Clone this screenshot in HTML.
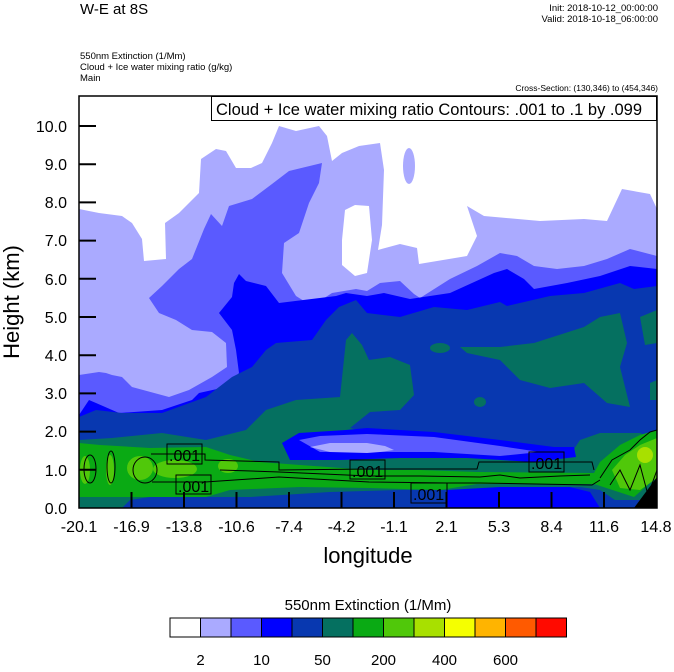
<!DOCTYPE html>
<html><head><meta charset="utf-8"><style>
html,body{margin:0;padding:0;background:#fff;}
body{width:674px;height:667px;overflow:hidden;font-family:"Liberation Sans",sans-serif;}
</style></head><body>
<svg width="674" height="667" viewBox="0 0 674 667" xmlns="http://www.w3.org/2000/svg" font-family="Liberation Sans, sans-serif">
<defs><clipPath id="c"><rect x="79" y="96" width="578" height="412"/></clipPath></defs>
<g clip-path="url(#c)">
<rect x="79" y="96" width="578" height="412" fill="#fff"/>
<polygon fill="#aaaaff" points="79,209 99,213 122,216 132,223 142,239 144,261 166,259 165,223 179,213 199,193 201,159 216,149 226,151 236,168 251,168 262,163 272,143 279,126 296,131 319,126 327,136 332,161 342,153 359,146 380,143 384,170 382,225 378,250 400,244 417,248 419,264 467,256 477,236 467,206 484,216 540,221 584,219 607,221 622,189 650,194 657,209 657,508 79,508"/>
<polygon fill="#fff" points="342,240 345,210 355,205 369,206 372,240 367,273 355,276 342,265"/>
<ellipse cx="409" cy="166" rx="6" ry="18" fill="#aaaaff"/>
<polygon fill="#5a5aff" points="79,375 99,372 106,373 112,375 122,377 132,387 169,397 189,390 212,377 227,367 226,343 212,332 192,330 176,320 159,313 149,298 162,286 179,269 192,259 204,229 211,214 222,226 229,206 252,199 272,184 289,171 322,163 319,183 309,203 299,233 284,243 282,273 296,296 312,306 332,293 356,289 367,291 380,283 400,281 414,294 420,298 450,279 477,266 500,253 517,256 534,266 557,269 584,266 607,259 630,249 657,256 657,508 79,508"/>
<polygon fill="#0000ff" points="79,415 89,400 96,403 119,413 162,410 192,400 199,393 226,387 239,373 236,350 232,330 219,313 232,297 234,283 239,274 246,281 266,286 279,303 336,296 346,293 367,296 384,293 410,299 450,293 494,273 507,269 524,279 534,289 567,283 600,276 630,266 657,269 657,508 79,508"/>
<polygon fill="#0838b0" points="79,417 96,410 122,413 162,413 206,397 232,377 252,367 266,350 276,343 312,340 326,320 339,307 356,300 367,313 400,317 434,307 467,310 500,302 507,306 550,296 584,293 620,283 634,289 657,286 657,508 79,508"/>
<polygon fill="#057060" points="79,440 112,438 162,433 206,440 246,430 266,410 296,400 340,397 346,340 352,333 362,345 369,360 390,357 410,365 414,395 400,410 370,412 350,428 400,440 500,450 570,455 580,440 600,433 640,433 657,440 657,500 130,500 122,508 79,508"/>
<polygon fill="#057060" points="460,347 500,347 534,343 584,327 600,317 620,313 627,343 620,367 630,407 607,403 584,383 550,388 520,380 500,360 467,353"/>
<polygon fill="#057060" points="640,317 657,310 657,343 645,345"/>
<polygon fill="#057060" points="650,383 657,380 657,400 650,400"/>
<ellipse cx="440" cy="348" rx="10" ry="5" fill="#057060"/>
<ellipse cx="480" cy="402" rx="6" ry="5" fill="#057060"/>
<polygon fill="#0000ff" points="282,443 299,433 346,430 367,428 434,432 500,440 554,447 574,447 576,457 534,462 467,458 400,458 340,460 290,460"/>
<polygon fill="#5a5aff" points="299,440 320,436 367,434 434,437 500,446 540,452 500,456 434,452 367,452 320,452"/>
<polygon fill="#aaaaff" points="310,447 330,443 367,443 385,446 394,450 380,452 367,453 330,452"/>
<polygon fill="#0aaa14" points="79,443 100,445 150,448 206,447 230,455 260,462 300,465 369,470 420,470 477,472 594,473 600,462 620,445 640,435 657,430 657,477 634,497 594,484 477,484 440,490 369,488 300,487 230,490 206,497 122,497 79,497"/>
<polygon fill="#0838b0" points="130,508 130,500 150,497 250,497 330,492 400,490 480,490 580,487 600,490 615,500 630,508"/>
<polygon fill="#0000ff" points="447,508 447,490 500,487 570,487 590,492 600,508"/>
<g fill="#50c80a">
<ellipse cx="85" cy="470" rx="5" ry="14"/><ellipse cx="110" cy="470" rx="4" ry="15"/>
<ellipse cx="140" cy="468" rx="13" ry="12"/><ellipse cx="175" cy="469" rx="22" ry="9"/>
<ellipse cx="228" cy="466" rx="10" ry="7"/>
<polygon points="612,470 625,455 640,445 657,438 657,478 640,490 620,488"/>
</g>
<ellipse cx="645" cy="455" rx="8" ry="8" fill="#a8e000"/>
<polygon fill="#000" points="634,508 657,477 657,508"/>
<g fill="none" stroke="#000" stroke-width="1">
<polyline points="151,454 205,454 205,460 279,462 279,470 369,469 477,469 479,462 592,462 594,470"/>
<polyline points="152,482 205,482 279,477 369,482 447,483 480,483 592,485 600,480"/>
<polyline points="220,470 279,472 369,476 420,476 480,477 500,475 520,478 560,476 590,475"/>
<ellipse cx="90" cy="469" rx="6" ry="14"/><ellipse cx="111" cy="467" rx="4" ry="16"/>
<ellipse cx="145" cy="470" rx="12" ry="13"/>
<polyline points="600,478 612,460 630,450 640,440 650,432 657,430"/>
<polyline points="610,485 620,470 630,490 640,465 648,495 657,470"/>
</g>
<g font-size="16" fill="#000">
<rect x="167" y="444" width="35" height="20" fill="none" stroke="#000"/><text x="169" y="461">.001</text>
<rect x="176" y="475" width="35" height="19" fill="none" stroke="#000"/><text x="178" y="492">.001</text>
<rect x="350" y="460" width="35" height="19" fill="none" stroke="#000"/><text x="352" y="477">.001</text>
<rect x="411" y="483" width="36" height="20" fill="none" stroke="#000"/><text x="413" y="500">.001</text>
<rect x="529" y="452" width="35" height="20" fill="none" stroke="#000"/><text x="531" y="469">.001</text>
</g>
</g>
<rect x="79" y="96" width="578" height="412" fill="none" stroke="#000" stroke-width="1.5"/>
<g stroke="#000" stroke-width="2">
<line x1="79" y1="469.8" x2="96" y2="469.8"/><line x1="79" y1="431.6" x2="96" y2="431.6"/>
<line x1="79" y1="393.4" x2="96" y2="393.4"/><line x1="79" y1="355.2" x2="96" y2="355.2"/>
<line x1="79" y1="317" x2="96" y2="317"/><line x1="79" y1="278.8" x2="96" y2="278.8"/>
<line x1="79" y1="240.6" x2="96" y2="240.6"/><line x1="79" y1="202.4" x2="96" y2="202.4"/>
<line x1="79" y1="164.2" x2="96" y2="164.2"/><line x1="79" y1="126" x2="96" y2="126"/>
<line x1="131.5" y1="508" x2="131.5" y2="492"/><line x1="184" y1="508" x2="184" y2="492"/>
<line x1="236.5" y1="508" x2="236.5" y2="492"/><line x1="289" y1="508" x2="289" y2="492"/>
<line x1="341.5" y1="508" x2="341.5" y2="492"/><line x1="394" y1="508" x2="394" y2="492"/>
<line x1="446.5" y1="508" x2="446.5" y2="492"/><line x1="499" y1="508" x2="499" y2="492"/>
<line x1="551.5" y1="508" x2="551.5" y2="492"/><line x1="604" y1="508" x2="604" y2="492"/>
</g>
<g font-size="16" text-anchor="end">
<text x="67" y="514">0.0</text><text x="67" y="476">1.0</text><text x="67" y="437">2.0</text>
<text x="67" y="399">3.0</text><text x="67" y="361">4.0</text><text x="67" y="323">5.0</text>
<text x="67" y="285">6.0</text><text x="67" y="246">7.0</text><text x="67" y="208">8.0</text>
<text x="67" y="170">9.0</text><text x="67" y="132">10.0</text>
</g>
<g font-size="16" text-anchor="middle">
<text x="79" y="532">-20.1</text><text x="131.5" y="532">-16.9</text><text x="184" y="532">-13.8</text>
<text x="236.5" y="532">-10.6</text><text x="289" y="532">-7.4</text><text x="341.5" y="532">-4.2</text>
<text x="394" y="532">-1.1</text><text x="446.5" y="532">2.1</text><text x="499" y="532">5.3</text>
<text x="551.5" y="532">8.4</text><text x="604" y="532">11.6</text><text x="656" y="532">14.8</text>
</g>
<text x="368" y="563" font-size="22" text-anchor="middle">longitude</text>
<text transform="translate(19,302) rotate(-90)" font-size="22" text-anchor="middle">Height (km)</text>
<text x="80" y="14" font-size="15">W-E at 8S</text>
<text x="658" y="11" font-size="9.5" text-anchor="end">Init: 2018-10-12_00:00:00</text>
<text x="658" y="22" font-size="9.5" text-anchor="end">Valid: 2018-10-18_06:00:00</text>
<text x="80" y="59" font-size="9.5">550nm Extinction   (1/Mm)</text>
<text x="80" y="70" font-size="9.5">Cloud + Ice water mixing ratio   (g/kg)</text>
<text x="80" y="81" font-size="9.5">Main</text>
<text x="658" y="91" font-size="8.5" text-anchor="end">Cross-Section: (130,346) to (454,346)</text>
<rect x="211.5" y="96.5" width="445" height="24" fill="#fff" stroke="#000"/>
<text x="216" y="115" font-size="16.5">Cloud + Ice water mixing ratio Contours: .001 to .1 by .099</text>
<text x="368" y="610" font-size="15" text-anchor="middle">550nm Extinction  (1/Mm)</text>
<g stroke="#000" stroke-width="1">
<rect x="170" y="618" width="30.5" height="19" fill="#ffffff"/>
<rect x="200.5" y="618" width="30.5" height="19" fill="#aaaaff"/>
<rect x="231" y="618" width="30.5" height="19" fill="#5a5aff"/>
<rect x="261.5" y="618" width="30.5" height="19" fill="#0000ff"/>
<rect x="292" y="618" width="30.5" height="19" fill="#0838b0"/>
<rect x="322.5" y="618" width="30.5" height="19" fill="#057060"/>
<rect x="353" y="618" width="30.5" height="19" fill="#0aaa14"/>
<rect x="383.5" y="618" width="30.5" height="19" fill="#50c80a"/>
<rect x="414" y="618" width="30.5" height="19" fill="#a8e000"/>
<rect x="444.5" y="618" width="30.5" height="19" fill="#f5ff00"/>
<rect x="475" y="618" width="30.5" height="19" fill="#ffb400"/>
<rect x="505.5" y="618" width="30.5" height="19" fill="#ff5a00"/>
<rect x="536" y="618" width="30.5" height="19" fill="#ff0a00"/>
</g>
<g font-size="15" text-anchor="middle">
<text x="200.5" y="665">2</text><text x="261.5" y="665">10</text><text x="322.5" y="665">50</text>
<text x="383.5" y="665">200</text><text x="444.5" y="665">400</text><text x="505.5" y="665">600</text>
</g>
</svg>
</body></html>
